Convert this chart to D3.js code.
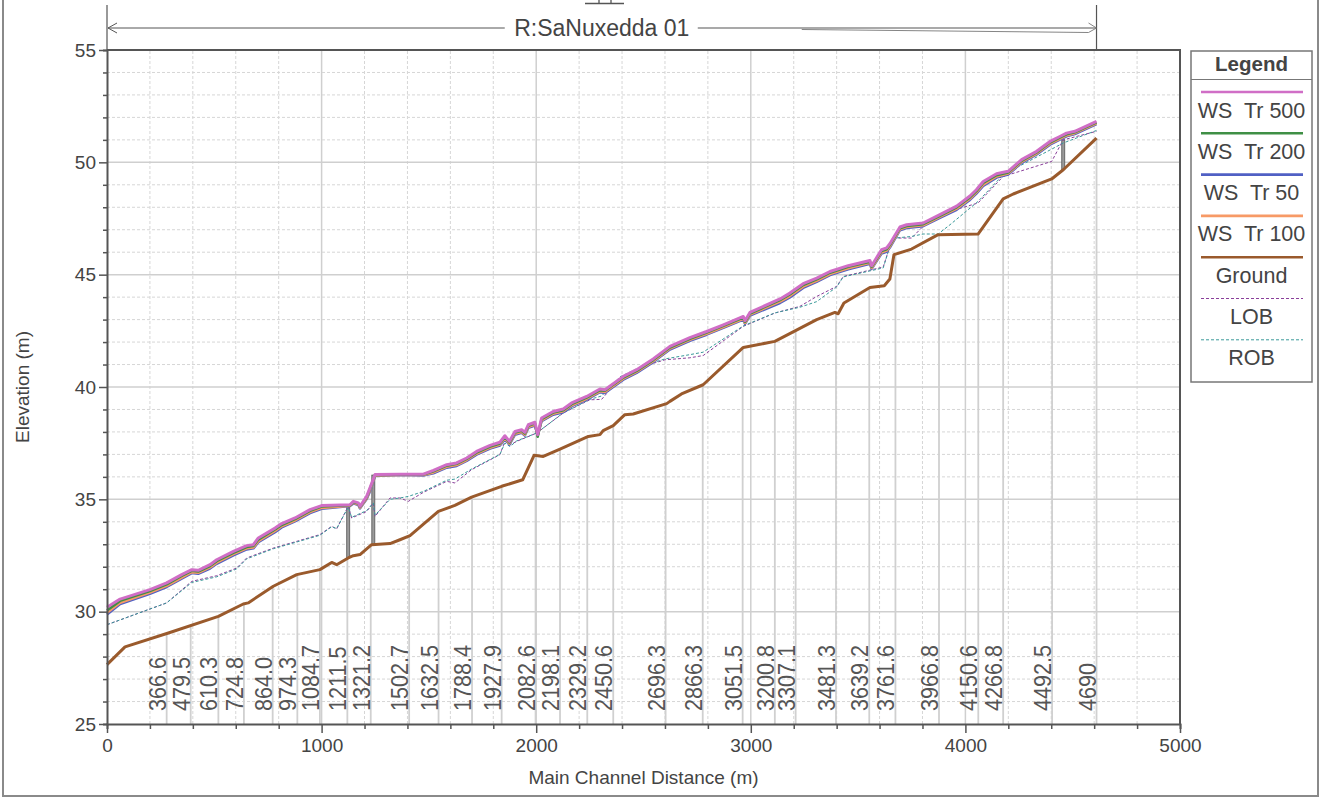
<!DOCTYPE html>
<html>
<head>
<meta charset="utf-8">
<script src="https://cdn.jsdelivr.net/npm/d3@7"></script>
<style>
  body { margin: 0; background: #fff; }
  svg text { font-family: "Liberation Sans", Arial, sans-serif; fill: #444; }
</style>
</head>
<body>
<svg id="chart" width="1322" height="798"></svg>
<script>
// ---- Profile data: main channel distance (m) and elevation (m) ----
const reachName = "R:SaNuxedda 01";

// Water surface profiles (shared distances)
const wsDist = [0,61,200,278,348,395,425,480,511,589,651,682,705,783,814,876,946,1000,1132,1148,1171,1179,1210,1225,1249,1365,1474,1521,1583,1629,1676,1722,1785,1831,1854,1875,1901,1932,1947,1963,1994,2007,2025,2079,2126,2165,2235,2297,2320,2406,2468,2545,2623,2716,2794,2872,2965,2973,2996,3136,3182,3244,3307,3369,3454,3555,3563,3609,3633,3648,3695,3726,3803,3881,3959,4021,4051,4083,4145,4199,4262,4332,4394,4440,4471,4510,4611];
const wsTr500 = [30.20,30.56,30.98,31.28,31.65,31.87,31.84,32.09,32.31,32.68,32.94,32.98,33.28,33.72,33.92,34.17,34.54,34.72,34.76,34.91,34.84,34.69,35.13,35.50,36.10,36.12,36.12,36.29,36.54,36.62,36.84,37.13,37.40,37.54,37.83,37.58,38.02,38.10,37.98,38.32,38.43,37.88,38.62,38.91,39.02,39.29,39.58,39.91,39.88,40.47,40.77,41.25,41.81,42.20,42.47,42.77,43.14,42.95,43.32,43.92,44.18,44.60,44.85,45.14,45.40,45.63,45.40,46.11,46.19,46.38,47.12,47.22,47.30,47.67,48.05,48.50,48.78,49.15,49.49,49.60,50.12,50.49,50.93,51.15,51.30,51.38,51.82];
const wsTr200 = [30.05,30.48,30.92,31.22,31.59,31.82,31.79,32.03,32.25,32.62,32.88,32.92,33.21,33.66,33.86,34.12,34.49,34.68,34.74,34.88,34.81,34.66,35.09,35.45,36.08,36.10,36.10,36.25,36.50,36.58,36.80,37.08,37.35,37.49,37.78,37.53,37.97,38.05,37.93,38.27,38.38,37.79,38.57,38.86,38.97,39.24,39.53,39.86,39.83,40.42,40.72,41.20,41.76,42.15,42.42,42.72,43.09,42.90,43.27,43.87,44.12,44.54,44.79,45.09,45.35,45.58,45.35,46.05,46.13,46.32,47.07,47.17,47.25,47.62,48.00,48.44,48.72,49.08,49.43,49.55,50.07,50.44,50.88,51.10,51.25,51.34,51.78];
const wsTr100 = [29.95,30.40,30.85,31.15,31.52,31.76,31.73,31.97,32.18,32.56,32.82,32.86,33.14,33.59,33.80,34.06,34.43,34.62,34.72,34.85,34.78,34.63,35.05,35.40,36.06,36.09,36.08,36.20,36.45,36.53,36.75,37.03,37.30,37.44,37.72,37.48,37.92,38.00,37.88,38.22,38.33,37.84,38.52,38.81,38.92,39.19,39.48,39.81,39.78,40.37,40.67,41.15,41.71,42.10,42.37,42.67,43.04,42.85,43.22,43.80,44.05,44.47,44.73,45.03,45.29,45.53,45.30,45.99,46.07,46.26,47.02,47.12,47.20,47.57,47.94,48.38,48.66,49.01,49.37,49.50,50.02,50.39,50.83,51.05,51.20,51.30,51.74];
const wsTr50 = [29.87,30.34,30.80,31.10,31.47,31.72,31.69,31.92,32.13,32.51,32.77,32.82,33.09,33.54,33.75,34.02,34.39,34.58,34.70,34.82,34.75,34.60,35.01,35.35,36.04,36.08,36.06,36.16,36.41,36.49,36.71,36.99,37.26,37.40,37.68,37.44,37.88,37.96,37.84,38.18,38.29,37.86,38.48,38.77,38.88,39.15,39.44,39.77,39.74,40.33,40.63,41.11,41.67,42.06,42.33,42.63,43.00,42.81,43.18,43.74,43.99,44.41,44.68,44.98,45.24,45.49,45.26,45.94,46.02,46.21,46.98,47.08,47.16,47.53,47.89,48.33,48.61,48.95,49.32,49.46,49.98,50.35,50.79,51.01,51.16,51.26,51.70];

// Channel invert
const groundDist = [0,84,286,519,635,658,775,884,992,1047,1070,1124,1148,1179,1233,1319,1365,1412,1544,1621,1699,1839,1937,1990,2033,2111,2243,2297,2312,2359,2413,2452,2608,2623,2677,2778,2965,3112,3307,3392,3407,3434,3555,3622,3648,3667,3749,3873,4059,4176,4223,4402,4456,4611];
const groundElev = [27.64,28.43,29.05,29.79,30.34,30.39,31.13,31.65,31.87,32.19,32.09,32.39,32.49,32.54,32.98,33.03,33.20,33.38,34.46,34.73,35.10,35.58,35.87,36.96,36.91,37.24,37.80,37.88,38.06,38.28,38.77,38.80,39.26,39.36,39.69,40.10,41.76,42.03,43.00,43.32,43.26,43.74,44.43,44.51,44.81,45.89,46.14,46.78,46.81,48.37,48.59,49.26,49.67,51.08];

// Left and right overbank stations
const lobDist = [0,278,395,511,604,651,775,884,992,1047,1070,1124,1140,1210,1241,1249,1319,1365,1404,1474,1583,1621,1699,1831,1854,1878,1909,2002,2126,2188,2250,2305,2390,2499,2600,2716,2778,2965,3112,3229,3307,3400,3431,3617,3648,3672,3749,3803,3928,4059,4176,4402,4456,4611];
const lobElev = [29.42,30.39,31.35,31.60,31.94,32.39,32.83,33.13,33.43,33.80,33.68,34.69,34.17,34.46,34.84,34.24,35.06,35.06,34.91,35.31,35.80,35.73,36.32,36.99,37.58,37.43,37.58,37.95,38.84,39.14,39.43,39.45,40.40,40.92,41.21,41.30,41.40,42.70,43.29,43.59,44.03,44.48,44.92,45.34,46.26,46.63,46.63,47.15,47.82,48.19,49.37,50.04,51.00,51.38];
const robDist = [0,278,395,511,604,651,775,884,992,1047,1070,1124,1140,1210,1241,1249,1319,1365,1404,1474,1583,1621,1699,1831,1854,1878,1909,2002,2126,2188,2250,2305,2390,2499,2600,2716,2778,2965,3112,3229,3307,3400,3431,3617,3648,3672,3749,3803,3873,3928,4059,4176,4456,4611];
const robElev = [29.42,30.39,31.30,31.55,31.90,32.35,32.80,33.10,33.40,33.78,33.70,34.65,34.20,34.50,34.84,34.30,35.00,35.06,35.13,35.35,35.85,35.90,36.35,37.00,37.50,37.35,37.60,37.95,38.85,39.15,39.45,39.60,40.45,40.95,41.25,41.44,41.55,42.72,43.30,43.55,43.80,44.45,44.90,45.30,46.26,46.63,46.70,46.81,46.81,47.22,48.26,49.45,50.86,51.42];

// Labelled river stations
const stationLabels = ["366.6","479.5","610.3","724.8","864.0","974.3","1084.7","1211.5","1321.2","1502.7","1632.5","1788.4","1927.9","2082.6","2198.1","2329.2","2450.6","2696.3","2866.3","3051.5","3200.8","3307.1","3481.3","3639.2","3761.6","3966.8","4150.6","4266.8","4492.5","4690"];
const stationDist = [278,390,519,638,772,887,992,1120,1229,1408,1545,1701,1839,1997,2111,2238,2359,2603,2776,2962,3112,3209,3397,3552,3674,3877,4060,4176,4404,4611];

// Inline structures (distance, bottom, top)
const structDist = [1124,1241,4456];
const structLow = [32.39,33.00,49.67];
const structHigh = [34.76,36.08,51.00];

// Axis ticks
const xMajor = [0,1000,2000,3000,4000,5000];
const yMajor = [25,30,35,40,45,50,55];

// ---- Series styling ----
const series = [
  { name: "WS  Tr 500", color: "#d06ec6", width: 3,   dash: null },
  { name: "WS  Tr 200", color: "#3f8f45", width: 2.6, dash: null },
  { name: "WS  Tr 50",  color: "#5060c4", width: 2.6, dash: null },
  { name: "WS  Tr 100", color: "#f79a66", width: 2.6, dash: null },
  { name: "Ground",     color: "#9a5a2c", width: 3,   dash: null },
  { name: "LOB",        color: "#8a3f9a", width: 1,   dash: "3,2" },
  { name: "ROB",        color: "#3a9a9a", width: 1,   dash: "3,2" }
];

const svg = d3.select("#chart");
const x = d3.scaleLinear().domain([0, 5000]).range([107, 1180]);
const y = d3.scaleLinear().domain([25, 55]).range([724, 50]);

// Outer frame
svg.append("path")
  .attr("d", "M3,0 V796 H1318 V0")
  .attr("fill", "none").attr("stroke", "#8a8a8a").attr("stroke-width", 2);

// Clipped heading remnant along the top edge
svg.append("path")
  .attr("d", "M585,3.5 H599 V0 M599,3.5 H611 V0 M611,3.5 H624")
  .attr("fill", "none").attr("stroke", "#555").attr("stroke-width", 1.3);

// Grid
const grid = svg.append("g");
d3.range(200, 5000, 200).forEach(v => {
  const major = v % 1000 === 0;
  grid.append("line")
    .attr("x1", x(v)).attr("x2", x(v)).attr("y1", y(25)).attr("y2", y(55))
    .attr("stroke", major ? "#cfcfcf" : "#d6d6d6")
    .attr("stroke-width", major ? 1.5 : 1)
    .attr("stroke-dasharray", major ? null : "3,2");
});
d3.range(26, 55, 1).forEach(v => {
  const major = v % 5 === 0;
  grid.append("line")
    .attr("x1", x(0)).attr("x2", x(5000)).attr("y1", y(v)).attr("y2", y(v))
    .attr("stroke", major ? "#cfcfcf" : "#d6d6d6")
    .attr("stroke-width", major ? 1.5 : 1)
    .attr("stroke-dasharray", major ? null : "3,2");
});

// Station lines from the axis up to the invert
const groundAt = d => {
  const i = d3.bisectLeft(groundDist, d);
  if (i <= 0) return groundElev[0];
  if (i >= groundDist.length) return groundElev[groundElev.length - 1];
  const t = (d - groundDist[i - 1]) / (groundDist[i] - groundDist[i - 1]);
  return groundElev[i - 1] + t * (groundElev[i] - groundElev[i - 1]);
};
svg.append("g").selectAll("line").data(stationDist).join("line")
  .attr("x1", d => x(d)).attr("x2", d => x(d))
  .attr("y1", y(25)).attr("y2", d => y(groundAt(d)))
  .attr("stroke", "#d0d0d0").attr("stroke-width", 1.8);

// Station labels
svg.append("g").selectAll("text").data(stationLabels).join("text")
  .attr("transform", (t, i) => `translate(${x(stationDist[i]) - 1},711) rotate(-90) scale(0.9,1)`)
  .attr("font-size", 24).style("fill", "#555")
  .text(t => t);

// Inline structures
svg.append("g").selectAll("rect").data(structDist).join("rect")
  .attr("x", d => x(d) - 1.5).attr("width", 3)
  .attr("y", (d, i) => y(structHigh[i]))
  .attr("height", (d, i) => y(structLow[i]) - y(structHigh[i]))
  .attr("fill", "#9a9a9a").attr("stroke", "#555").attr("stroke-width", 0.8);

// Profile lines
const line = (xs, ys) => d3.line().x((d, i) => x(xs[i])).y(d => y(d))(ys);
const plot = svg.append("g").attr("fill", "none").attr("stroke-linejoin", "round");
const addLine = (xs, ys, s) => plot.append("path")
  .attr("d", line(xs, ys)).attr("stroke", s.color).attr("stroke-width", s.width)
  .attr("stroke-dasharray", s.dash);

addLine(lobDist, lobElev, series[5]);
addLine(robDist, robElev, series[6]);
addLine(groundDist, groundElev, series[4]);
addLine(wsDist, wsTr50, series[2]);
addLine(wsDist, wsTr100, series[3]);
addLine(wsDist, wsTr200, series[1]);
addLine(wsDist, wsTr500, series[0]);

// Axes
const xAxis = d3.axisBottom(x).tickValues(d3.range(0, 5001, 200))
  .tickSize(5).tickPadding(10)
  .tickFormat(d => xMajor.includes(d) ? d : "");
const gx = svg.append("g").attr("transform", `translate(0,${y(25)})`).call(xAxis);
gx.selectAll(".tick line").attr("y2", d => d % 1000 === 0 ? 9 : 5);

const yAxis = d3.axisLeft(y).tickValues(d3.range(25, 56, 1))
  .tickSize(4).tickPadding(7)
  .tickFormat(d => yMajor.includes(d) ? d : "");
const gy = svg.append("g").attr("transform", `translate(${x(0)},0)`).call(yAxis);
gy.selectAll(".tick line").attr("x2", d => d % 5 === 0 ? -8 : -4);

[gx, gy].forEach(g => {
  g.select(".domain").attr("stroke", "#555").attr("stroke-width", 2);
  g.selectAll(".tick line").attr("stroke", "#555").attr("stroke-width", 1.5);
  g.selectAll(".tick text").attr("font-size", 19).style("fill", "#444")
    .attr("font-family", "Liberation Sans, Arial, sans-serif");
});

// Plot border (top and right)
svg.append("path")
  .attr("d", `M${x(0)},${y(55)} H${x(5000)} V${y(25)}`)
  .attr("fill", "none").attr("stroke", "#555").attr("stroke-width", 2);

// Axis titles
svg.append("text").attr("x", (x(0) + x(5000)) / 2).attr("y", 784)
  .attr("text-anchor", "middle").attr("font-size", 19).text("Main Channel Distance (m)");
svg.append("text").attr("transform", `translate(29,${(y(25) + y(55)) / 2}) rotate(-90)`)
  .attr("text-anchor", "middle").attr("font-size", 19).text("Elevation (m)");

// Reach extent marker
const rx0 = x(0), rx1 = x(stationDist[stationDist.length - 1]);
const mid = (rx0 + rx1) / 2;
const reachMarks = svg.append("g").attr("stroke", "#555").attr("fill", "none");
reachMarks.append("line").attr("x1", rx0).attr("x2", rx0).attr("y1", 5).attr("y2", y(55)).attr("stroke-width", 1.2);
reachMarks.append("line").attr("x1", rx1).attr("x2", rx1).attr("y1", 5).attr("y2", y(55)).attr("stroke-width", 1.2);
reachMarks.append("line").attr("x1", rx0 + 1).attr("x2", mid - 97).attr("y1", 28).attr("y2", 28).attr("stroke-width", 1);
reachMarks.append("path").attr("d", `M${rx0 + 10},23 L${rx0 + 1},28 L${rx0 + 10},33`).attr("stroke-width", 1);
reachMarks.append("line").attr("x1", mid + 96).attr("x2", rx1).attr("y1", 28).attr("y2", 28).attr("stroke-width", 1.2);
reachMarks.append("path").attr("d", `M${mid + 200},29.5 L${rx1 - 8},32.5 L${rx1},28 L${rx1 - 8},23`).attr("stroke-width", 0.9).attr("stroke", "#777");
svg.append("text").attr("x", mid).attr("y", 36).attr("text-anchor", "middle")
  .attr("font-size", 23).text(reachName);

// Legend
const lg = svg.append("g");
lg.append("rect").attr("x", 1191).attr("y", 51).attr("width", 121).attr("height", 331)
  .attr("fill", "#fff").attr("stroke", "#777").attr("stroke-width", 1.5);
lg.append("line").attr("x1", 1191).attr("x2", 1312).attr("y1", 79.5).attr("y2", 79.5)
  .attr("stroke", "#777").attr("stroke-width", 1.2);
lg.append("text").attr("x", 1251.5).attr("y", 71).attr("text-anchor", "middle")
  .attr("font-size", 20.5).attr("font-weight", "bold").text("Legend");
series.forEach((s, i) => {
  const ly = 92 + i * 41.3;
  lg.append("line").attr("x1", 1201).attr("x2", 1303).attr("y1", ly).attr("y2", ly)
    .attr("stroke", s.color).attr("stroke-width", Math.min(s.width, 2.6)).attr("stroke-dasharray", s.dash);
  lg.append("text").attr("x", 1251.5).attr("y", ly + 25.5).attr("text-anchor", "middle")
    .attr("font-size", 21.5).style("white-space", "pre").text(s.name);
});
</script>
</body>
</html>
